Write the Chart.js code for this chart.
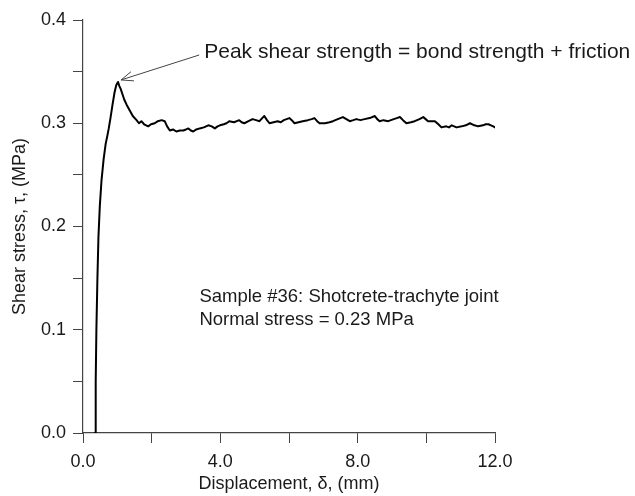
<!DOCTYPE html>
<html>
<head>
<meta charset="utf-8">
<script src="https://cdn.jsdelivr.net/npm/chart.js@4.4.1/dist/chart.umd.min.js"></script>
<style>
html,body{margin:0;padding:0;background:#fff;}
#wrap{width:635px;height:496px;position:relative;}
</style>
</head>
<body>
<div id="wrap"><canvas id="c" width="635" height="496"></canvas></div>
<script>
// ---- data ----
const displacement = [0.35,0.37,0.39,0.42,0.45,0.49,0.54,0.60,0.66,0.71,0.75,0.80,0.86,0.92,0.97,1.02,1.06,1.10,1.14,1.20,1.27,1.35,1.45,1.56,1.63,1.70,1.78,1.90,1.98,2.09,2.18,2.29,2.38,2.45,2.53,2.62,2.72,2.82,2.92,3.00,3.07,3.14,3.21,3.30,3.40,3.52,3.65,3.75,3.84,3.92,3.99,4.10,4.18,4.26,4.40,4.55,4.62,4.70,4.82,4.94,5.04,5.14,5.22,5.28,5.36,5.43,5.55,5.67,5.76,5.85,6.01,6.08,6.16,6.28,6.40,6.55,6.66,6.74,6.82,6.89,7.05,7.18,7.28,7.42,7.57,7.67,7.77,7.87,7.96,8.08,8.20,8.35,8.50,8.57,8.64,8.75,8.89,9.05,9.14,9.23,9.32,9.42,9.55,9.66,9.80,9.91,9.98,10.05,10.15,10.25,10.35,10.44,10.58,10.66,10.74,10.88,11.03,11.15,11.27,11.40,11.51,11.65,11.73,11.81,11.88,11.95,12.00];
const shearStress = [0.000,0.050,0.100,0.150,0.190,0.220,0.245,0.265,0.280,0.288,0.295,0.305,0.318,0.330,0.337,0.340,0.336,0.333,0.329,0.323,0.318,0.313,0.307,0.303,0.300,0.302,0.299,0.297,0.299,0.300,0.302,0.303,0.302,0.297,0.293,0.294,0.292,0.293,0.293,0.294,0.295,0.293,0.292,0.294,0.295,0.296,0.298,0.297,0.295,0.297,0.298,0.299,0.300,0.302,0.301,0.303,0.301,0.300,0.302,0.304,0.303,0.302,0.305,0.307,0.303,0.300,0.301,0.302,0.301,0.303,0.305,0.303,0.300,0.301,0.302,0.303,0.304,0.305,0.302,0.300,0.300,0.301,0.302,0.304,0.306,0.304,0.302,0.303,0.304,0.303,0.304,0.305,0.307,0.304,0.302,0.303,0.302,0.304,0.305,0.306,0.303,0.300,0.301,0.302,0.304,0.306,0.304,0.302,0.302,0.302,0.299,0.296,0.297,0.296,0.298,0.296,0.297,0.298,0.300,0.298,0.297,0.298,0.299,0.299,0.298,0.297,0.296];
const xTickLabels = ["0.0","4.0","8.0","12.0"];
const yTickLabels = ["0.0","0.1","0.2","0.3","0.4"];
const peakNote = "Peak shear strength = bond strength + friction";
const sampleNote = ["Sample #36: Shotcrete-trachyte joint","Normal stress = 0.23 MPa"];
const xTitle = "Displacement, \u03b4, (mm)";
const yTitle = "Shear stress, \u03c4, (MPa)";

const FONT = "'Liberation Sans', Arial, Helvetica, sans-serif";
const TXT = "#1a1a1a";

const points = displacement.map((x,i)=>({x:x,y:shearStress[i]}));

function near(v, step){ const r = v/step; return Math.abs(r-Math.round(r))<1e-6; }

const annot = {
  id:'annot',
  afterDraw(chart){
    const ctx = chart.ctx, xs = chart.scales.x, ys = chart.scales.y;
    let pi = 0; shearStress.forEach((v,i)=>{ if(v>shearStress[pi]) pi=i; });
    const px = xs.getPixelForValue(displacement[pi]), py = ys.getPixelForValue(shearStress[pi]);
    const tipX = px+3, tipY = py-2;
    const tx = xs.getPixelForValue(3.53), ty = ys.getPixelForValue(0.369);
    const tailX = tx-5, tailY = ty+3;
    ctx.save();
    ctx.strokeStyle = "#444"; ctx.lineWidth = 1;
    ctx.beginPath(); ctx.moveTo(tailX,tailY); ctx.lineTo(tipX,tipY); ctx.stroke();
    const ang = Math.atan2(tailY-tipY, tailX-tipX);
    const L = 13, a = 0.38;
    ctx.beginPath();
    ctx.moveTo(tipX+L*Math.cos(ang+a), tipY+L*Math.sin(ang+a));
    ctx.lineTo(tipX,tipY);
    ctx.lineTo(tipX+L*Math.cos(ang-a), tipY+L*Math.sin(ang-a));
    ctx.stroke();
    ctx.fillStyle = TXT;
    ctx.font = "21px " + FONT;
    ctx.textBaseline = "middle"; ctx.textAlign = "left";
    ctx.fillText(peakNote, tx, ty);
    ctx.font = "18.5px " + FONT;
    const sx = xs.getPixelForValue(3.39);
    ctx.fillText(sampleNote[0], sx, ys.getPixelForValue(0.132));
    ctx.fillText(sampleNote[1], sx, ys.getPixelForValue(0.110));
    ctx.restore();
  }
};

new Chart(document.getElementById('c'), {
  type:'scatter',
  data:{datasets:[{
    data:points,
    showLine:true,
    borderColor:'#000',
    borderWidth:2,
    pointRadius:0,
    tension:0,
    borderJoinStyle:'round',
    borderCapStyle:'round'
  }]},
  options:{
    responsive:false,
    animation:false,
    layout:{padding:{left:0,right:140,top:20,bottom:0}},
    plugins:{legend:{display:false},tooltip:{enabled:false}},
    scales:{
      x:{
        type:'linear', min:0, max:12,
        afterFit(s){ s.height = 63; },
        ticks:{ stepSize:2, color:TXT, font:{family:FONT,size:18}, padding:8, maxRotation:0, autoSkip:false,
          callback(v){ return near(v,4) ? xTickLabels[Math.round(v/4)] : ''; } },
        grid:{ drawOnChartArea:false, drawTicks:true, tickLength:10, color:'#444', lineWidth:1 },
        border:{ display:true, color:'#444', width:1.2 },
        title:{ display:true, text:xTitle, color:TXT, font:{family:FONT,size:18}, padding:{top:0,bottom:1} }
      },
      y:{
        type:'linear', min:0, max:0.4,
        afterFit(s){ s.width = 83; },
        ticks:{ stepSize:0.05, color:TXT, font:{family:FONT,size:18}, padding:7, autoSkip:false,
          callback(v){ return near(v,0.1) ? yTickLabels[Math.round(v/0.1)] : ''; } },
        grid:{ drawOnChartArea:false, drawTicks:true, tickLength:10, color:'#444', lineWidth:1 },
        border:{ display:true, color:'#444', width:1.2 },
        title:{ display:true, text:yTitle, color:TXT, font:{family:FONT,size:18}, padding:{top:9,bottom:0} }
      }
    }
  },
  plugins:[annot]
});
</script>
</body>
</html>
